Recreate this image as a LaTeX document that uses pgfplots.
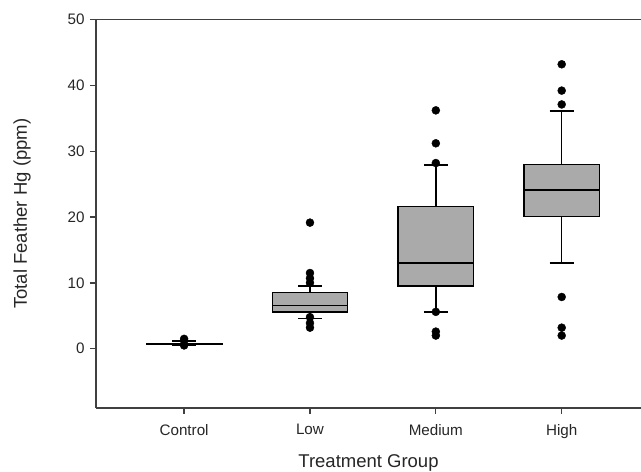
\documentclass[border=0pt]{standalone}
\usepackage{pgfplots}
\pgfplotsset{compat=1.18}
\usepgfplotslibrary{statistics}
\usepackage{fontspec}
\setmainfont{Liberation Sans}
\definecolor{boxgray}{RGB}{170,170,170}
\definecolor{axgray}{RGB}{64,64,64}
\begin{document}
\begin{tikzpicture}
\begin{axis}[
  scale only axis, width=545pt, height=388.5pt,
  xmin=0.3, xmax=4.63, ymin=-9, ymax=50,
  axis y line*=left,
  axis x line*=bottom,
  xtick={1,2,3,4}, xticklabels={Control,Low,Medium,High},
  ytick={0,10,20,30,40,50},
  tick align=outside, major tick length=6pt,
  axis line style={draw=axgray, line width=1.3pt},
  every tick/.style={axgray, line width=1.3pt},
  /pgf/number format/assume math mode=true,
  tick label style={font=\fontsize{15.2}{17}\selectfont, text=black!85},
  yticklabel style={xshift=-2pt},
  xticklabel style={yshift=-7pt},
  xlabel={Treatment Group},
  ylabel={Total Feather Hg (ppm)},
  label style={font=\fontsize{18.5}{21}\selectfont, text=black!85},
  xlabel style={at={(axis description cs:0.5,0)}, anchor=center, yshift=-55pt},
  ylabel style={at={(axis description cs:0,0.5)}, anchor=center, yshift=74pt},
  boxplot/draw direction=y,
  clip=false,
]
\coordinate (ll) at (rel axis cs:0,0);
\coordinate (ur) at (rel axis cs:1,1);
\draw[axgray, line width=1.3pt] (rel axis cs:0,1) -- (rel axis cs:1,1);
\addplot[boxplot prepared={draw position=1, lower whisker=0.5, lower quartile=0.6, median=0.7, upper quartile=0.8, upper whisker=1.2, box extend=0.6, whisker extend=0.19}, draw=black, fill=boxgray, line width=1.4pt, solid] coordinates {};
\addplot[boxplot prepared={draw position=2, lower whisker=4.6, lower quartile=5.6, median=6.6, upper quartile=8.5, upper whisker=9.5, box extend=0.6, whisker extend=0.19}, draw=black, fill=boxgray, line width=1.4pt, solid] coordinates {};
\addplot[boxplot prepared={draw position=3, lower whisker=5.6, lower quartile=9.5, median=13.0, upper quartile=21.6, upper whisker=27.9, box extend=0.6, whisker extend=0.19}, draw=black, fill=boxgray, line width=1.4pt, solid] coordinates {};
\addplot[boxplot prepared={draw position=4, lower whisker=13.0, lower quartile=20.1, median=24.1, upper quartile=28.0, upper whisker=36.1, box extend=0.6, whisker extend=0.19}, draw=black, fill=boxgray, line width=1.4pt, solid] coordinates {};
\addplot[only marks, mark=*, mark size=4pt, black] coordinates {
 (1,1.5) (1,1.2) (1,0.5)
 (2,19.15) (2,11.5) (2,10.7) (2,10.0) (2,4.8) (2,3.9) (2,3.2)
 (3,36.2) (3,31.2) (3,28.2) (3,5.6) (3,2.6) (3,2.0)
 (4,43.2) (4,39.2) (4,37.1) (4,7.86) (4,3.2) (4,2.0)
};
\end{axis}
\pgfresetboundingbox
\path[use as bounding box] ([xshift=-96pt,yshift=-64pt]ll) rectangle ([yshift=19.5pt]ur);
\end{tikzpicture}
\end{document}
